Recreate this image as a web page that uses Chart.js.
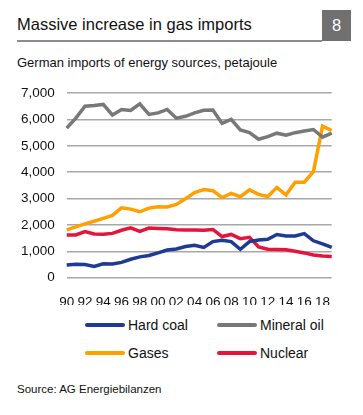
<!DOCTYPE html>
<html>
<head>
<meta charset="utf-8">
<script src="https://cdn.jsdelivr.net/npm/chart.js@4.4.1/dist/chart.umd.min.js"></script>
<style>
  body { margin: 0; background: #fff; font-family: "Liberation Sans", Arial, sans-serif; color: #111; }
  #page { position: relative; width: 363px; height: 415px; overflow: hidden; }
  #title { position: absolute; left: 17px; top: 15px; font-size: 16.5px; white-space: nowrap; }
  #rule { position: absolute; left: 17px; top: 40px; width: 305px; height: 1.5px; background: #8c8c8c; }
  #num { position: absolute; left: 322px; top: 10px; width: 29px; height: 31px; background: #707070; color: #fff;
         font-size: 16.5px; text-align: center; line-height: 31px; }
  #subtitle { position: absolute; left: 17px; top: 55px; font-size: 13px; white-space: nowrap; }
  #chartBox { position: absolute; left: 0; top: 73px; width: 345px; height: 232px; }
  .leg { position: absolute; font-size: 14px; white-space: nowrap; }
  .leg span { display: inline-block; width: 40px; height: 4px; border-radius: 2px; vertical-align: middle; margin-right: 3px; position: relative; top: -1px; }
  #source { position: absolute; left: 17px; top: 383px; font-size: 11.5px; white-space: nowrap; }
</style>
</head>
<body>
<div id="page">
  <div id="title">Massive increase in gas imports</div>
  <div id="rule"></div>
  <div id="num">8</div>
  <div id="subtitle">German imports of energy sources, petajoule</div>
  <div id="chartBox"><canvas id="chart"></canvas></div>
  <div id="legend"></div>
  <div id="source">Source: AG Energiebilanzen</div>
</div>
<script>
const years = [1990, 1991, 1992, 1993, 1994, 1995, 1996, 1997, 1998, 1999,
               2000, 2001, 2002, 2003, 2004, 2005, 2006, 2007, 2008, 2009,
               2010, 2011, 2012, 2013, 2014, 2015, 2016, 2017, 2018, 2019];

const hardCoal = [480, 510, 500, 430, 530, 520, 580, 700, 790, 840,
                  940, 1050, 1090, 1180, 1230, 1150, 1370, 1420, 1370, 1080,
                  1370, 1430, 1460, 1640, 1580, 1580, 1670, 1400, 1280, 1150];

const mineralOil = [5670, 6050, 6500, 6530, 6570, 6170, 6380, 6340, 6590, 6190,
                    6250, 6380, 6050, 6120, 6250, 6350, 6360, 5850, 6000, 5600,
                    5500, 5250, 5350, 5480, 5400, 5500, 5560, 5620, 5330, 5480];

const gases = [1810, 1930, 2040, 2140, 2250, 2360, 2650, 2600, 2500, 2640,
               2690, 2680, 2780, 2990, 3230, 3340, 3300, 3040, 3200, 3070,
               3330, 3160, 3080, 3420, 3140, 3620, 3620, 4020, 5750, 5580];

const nuclear = [1620, 1620, 1750, 1660, 1650, 1680, 1800, 1890, 1760, 1880,
                 1870, 1860, 1820, 1810, 1810, 1800, 1830, 1560, 1640, 1480,
                 1530, 1170, 1080, 1070, 1060, 1000, 940, 860, 820, 800];

const yTicks = [0, 1000, 2000, 3000, 4000, 5000, 6000, 7000];

const series = [
  { label: 'Hard coal', data: hardCoal, color: '#1e3a94' },
  { label: 'Mineral oil', data: mineralOil, color: '#787878' },
  { label: 'Gases', data: gases, color: '#ffa000' },
  { label: 'Nuclear', data: nuclear, color: '#e5143c' }
];

// legend, 2 columns
const legendPos = [[85, 317], [217, 317], [85, 345], [217, 345]];
const legendEl = document.getElementById('legend');
series.forEach((s, i) => {
  const d = document.createElement('div');
  d.className = 'leg';
  d.style.left = legendPos[i][0] + 'px';
  d.style.top = legendPos[i][1] + 'px';
  d.innerHTML = '<span style="background:' + s.color + '"></span>' + s.label;
  legendEl.appendChild(d);
});

const font = { family: '"Liberation Sans", Arial, sans-serif', size: 13.5 };

new Chart(document.getElementById('chart').getContext('2d'), {
  type: 'line',
  data: {
    labels: years,
    // draw order: grey first, then the rest on top
    datasets: [series[1], series[0], series[3], series[2]].map(s => ({
      label: s.label,
      data: s.data,
      borderColor: s.color,
      borderWidth: 3.5,
      pointRadius: 0,
      tension: 0,
      fill: false
    }))
  },
  options: {
    responsive: true,
    maintainAspectRatio: false,
    animation: false,
    layout: { padding: { left: 0, right: 13.3, top: 6, bottom: 0 } },
    plugins: { legend: { display: false }, tooltip: { enabled: false } },
    scales: {
      x: {
        grid: { display: false },
        border: { display: false },
        ticks: {
          color: '#111',
          font: font,
          autoSkip: false,
          maxRotation: 0,
          padding: 8,
          callback: function(v, i) {
            return i % 2 === 0 ? String(years[i]).slice(2) : '';
          }
        },
        afterFit: function(scale) { scale.height = 27.3; }
      },
      y: {
        min: 0,
        max: 7000,
        afterBuildTicks: function(scale) { scale.ticks = yTicks.map(v => ({ value: v })); },
        grid: { color: '#a8a8a8', lineWidth: 1.5, drawTicks: false },
        border: { display: false },
        ticks: {
          color: '#111',
          font: font,
          padding: 12,
          callback: v => v.toLocaleString('en-US')
        },
        afterFit: function(scale) { scale.width = 66.7; }
      }
    }
  }
});
</script>
</body>
</html>
